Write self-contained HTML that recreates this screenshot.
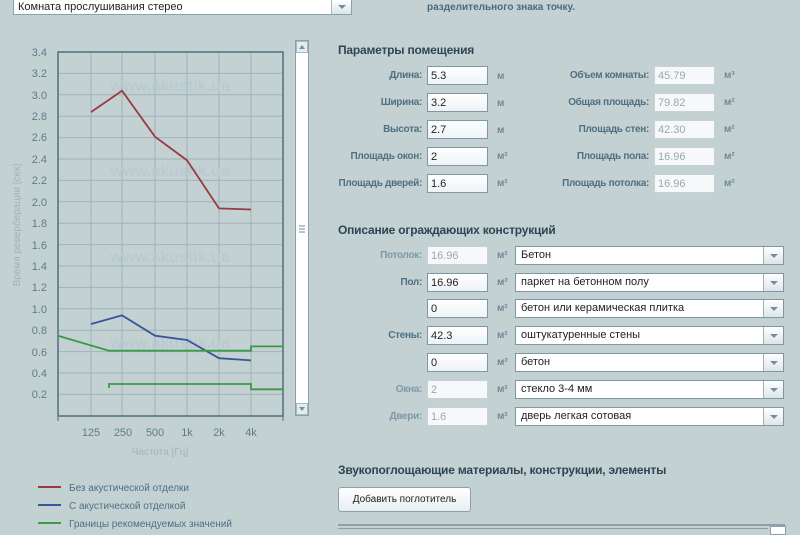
<!DOCTYPE html>
<html><head><meta charset="utf-8"><style>
body{margin:0;width:800px;height:533px;background:#c3d1d3;font-family:"Liberation Sans",sans-serif;position:relative;overflow:hidden}
.a{position:absolute}
.lb{position:absolute;font-size:10px;letter-spacing:-0.3px;font-weight:bold;color:#4f6f82;text-align:right;white-space:nowrap}
.in{position:absolute;width:61px;height:19px;background:linear-gradient(#fff,#eef3f6);border:1px solid #7f97a4;font-size:11px;line-height:19px;padding-left:3px;box-sizing:border-box;color:#222}
.in.d{color:#9aa;border-color:#c8d2d6;background:#f6f8f9}
.u{position:absolute;font-size:10px;font-weight:bold;color:#6f8a98}
.sel{position:absolute;left:515px;width:269px;height:19px;background:#fff;border:1px solid #7f97a4;box-sizing:border-box;font-size:11px;line-height:17px;padding-left:5px;color:#222}
.sel:after{content:"";position:absolute;right:0;top:0;width:19px;height:17px;border-left:1px solid #9fb0b8;background:linear-gradient(#fff,#dde5e9)}
.sel b{position:absolute;right:5px;top:7px;width:0;height:0;border-left:4px solid transparent;border-right:4px solid transparent;border-top:4px solid #6f8fa8;z-index:2}
h3{position:absolute;margin:0;font-size:12px;color:#2f4552;font-weight:bold;letter-spacing:-0.2px}
</style></head><body>
<div class="a" style="left:13px;top:-1px;width:339px;height:16px;background:#fff;border:1px solid #8aa0ab;box-sizing:border-box;font-size:11px;line-height:14px;padding-left:4px;color:#222">Комната прослушивания стерео<span style="position:absolute;right:0;top:0;width:19px;height:14px;border-left:1px solid #a9b8bf;background:linear-gradient(#fff,#dde5e9)"></span><span style="position:absolute;right:5px;top:5px;border-left:4px solid transparent;border-right:4px solid transparent;border-top:4px solid #6f8fa8"></span></div>
<div class="a" style="left:427px;top:2px;font-size:10px;font-weight:bold;color:#4a6a80">разделительного знака точку.</div>

<svg class="a" style="left:0;top:30px" width="320" height="440" viewBox="0 30 320 440">
<g stroke="#9fb3bb" stroke-width="1">
<line x1="91" y1="52" x2="91" y2="416"/><line x1="122" y1="52" x2="122" y2="416"/><line x1="155" y1="52" x2="155" y2="416"/><line x1="187" y1="52" x2="187" y2="416"/><line x1="219" y1="52" x2="219" y2="416"/><line x1="251" y1="52" x2="251" y2="416"/>
<line x1="58" y1="73.4" x2="283" y2="73.4"/><line x1="58" y1="94.8" x2="283" y2="94.8"/><line x1="58" y1="116.2" x2="283" y2="116.2"/><line x1="58" y1="137.6" x2="283" y2="137.6"/><line x1="58" y1="159" x2="283" y2="159"/><line x1="58" y1="180.4" x2="283" y2="180.4"/><line x1="58" y1="201.8" x2="283" y2="201.8"/><line x1="58" y1="223.2" x2="283" y2="223.2"/><line x1="58" y1="244.6" x2="283" y2="244.6"/><line x1="58" y1="266" x2="283" y2="266"/><line x1="58" y1="287.4" x2="283" y2="287.4"/><line x1="58" y1="308.8" x2="283" y2="308.8"/><line x1="58" y1="330.2" x2="283" y2="330.2"/><line x1="58" y1="351.6" x2="283" y2="351.6"/><line x1="58" y1="373" x2="283" y2="373"/><line x1="58" y1="394.4" x2="283" y2="394.4"/>
</g>
<g font-family="Liberation Sans" font-size="16" font-weight="bold" fill="#b9cad0" text-anchor="middle"><text x="170" y="91">www.akustik.ua</text><text x="170" y="176">www.akustik.ua</text><text x="170" y="262">www.akustik.ua</text><text x="170" y="348">www.akustik.ua</text></g>
<rect x="58" y="52" width="225" height="364" fill="none" stroke="#4d7080" stroke-width="1.5"/>
<g stroke="#4d7080"><line x1="58" y1="416" x2="58" y2="421"/><line x1="283" y1="416" x2="283" y2="421"/></g>
<g font-family="Liberation Sans" font-size="11" fill="#5f7b88" text-anchor="end">
<text x="47" y="56">3.4</text><text x="47" y="77">3.2</text><text x="47" y="99">3.0</text><text x="47" y="120">2.8</text><text x="47" y="141">2.6</text><text x="47" y="163">2.4</text><text x="47" y="184">2.2</text><text x="47" y="206">2.0</text><text x="47" y="227">1.8</text><text x="47" y="249">1.6</text><text x="47" y="270">1.4</text><text x="47" y="291">1.2</text><text x="47" y="313">1.0</text><text x="47" y="334">0.8</text><text x="47" y="356">0.6</text><text x="47" y="377">0.4</text><text x="47" y="398">0.2</text></g>
<g font-family="Liberation Sans" font-size="11" fill="#5f7b88" text-anchor="middle"><text x="91" y="436">125</text><text x="123" y="436">250</text><text x="155" y="436">500</text><text x="187" y="436">1k</text><text x="219" y="436">2k</text><text x="251" y="436">4k</text></g>
<text x="160" y="455" font-family="Liberation Sans" font-size="10" fill="#9fb3bb" text-anchor="middle">Частота [Гц]</text>
<text transform="translate(20,225) rotate(-90)" font-family="Liberation Sans" font-size="10" fill="#9fb3bb" text-anchor="middle">Время реверберации [сек]</text>
<polyline fill="none" stroke="#9b3a42" stroke-width="1.8" points="91,112.1 122,90.7 155,136.7 187,160.3 219,208.4 251,209.5"/>
<polyline fill="none" stroke="#3a569b" stroke-width="1.8" points="91,324 122,315.4 155,335.7 187,340 219,358.2 251,360.4"/>
<polyline fill="none" stroke="#3a9a48" stroke-width="1.8" points="58,335.7 109,350.7 251,350.7 251,346.4 283,346.4"/>
<polyline fill="none" stroke="#3a9a48" stroke-width="1.8" points="109,388 109,384 251,384 251,389.3 283,389.3"/>
<rect x="295.5" y="40.5" width="13" height="375" fill="#fff" stroke="#8aa0ab"/>
<rect x="296.5" y="41.5" width="11" height="11" fill="#e6edf0" stroke="#a9b8bf"/><path d="M299 49 L302 45 L305 49Z" fill="#6f8fa8"/>
<rect x="296.5" y="403.5" width="11" height="11" fill="#e6edf0" stroke="#a9b8bf"/><path d="M299 407 L302 411 L305 407Z" fill="#6f8fa8"/>
<g stroke="#6f8a98"><line x1="299" y1="226" x2="305" y2="226"/><line x1="299" y1="229" x2="305" y2="229"/><line x1="299" y1="232" x2="305" y2="232"/></g>
</svg>

<div class="a" style="left:38px;top:486px;width:23px;height:2px;background:#9b3a42"></div>
<div class="a" style="left:38px;top:504px;width:23px;height:2px;background:#3a569b"></div>
<div class="a" style="left:38px;top:522px;width:23px;height:2px;background:#3a9a48"></div>
<div class="a" style="left:69px;top:480px;font-size:10px;color:#4f6f82;line-height:18px">Без акустической отделки<br>С акустической отделкой<br>Границы рекомендуемых значений</div>

<h3 style="left:338px;top:43px">Параметры помещения</h3>
<div class="lb" style="right:378px;top:70px">Длина:</div><div class="in" style="left:427px;top:66px">5.3</div><div class="u" style="left:497px;top:71px">м</div>
<div class="lb" style="right:378px;top:97px">Ширина:</div><div class="in" style="left:427px;top:93px">3.2</div><div class="u" style="left:497px;top:98px">м</div>
<div class="lb" style="right:378px;top:124px">Высота:</div><div class="in" style="left:427px;top:120px">2.7</div><div class="u" style="left:497px;top:125px">м</div>
<div class="lb" style="right:378px;top:151px">Площадь окон:</div><div class="in" style="left:427px;top:147px">2</div><div class="u" style="left:497px;top:151px">м²</div>
<div class="lb" style="right:378px;top:178px">Площадь дверей:</div><div class="in" style="left:427px;top:174px">1.6</div><div class="u" style="left:497px;top:178px">м²</div>

<div class="lb" style="right:151px;top:70px">Объем комнаты:</div><div class="in d" style="left:654px;top:66px">45.79</div><div class="u" style="left:724px;top:70px">м³</div>
<div class="lb" style="right:151px;top:97px">Общая площадь:</div><div class="in d" style="left:654px;top:93px">79.82</div><div class="u" style="left:724px;top:97px">м²</div>
<div class="lb" style="right:151px;top:124px">Площадь стен:</div><div class="in d" style="left:654px;top:120px">42.30</div><div class="u" style="left:724px;top:124px">м²</div>
<div class="lb" style="right:151px;top:151px">Площадь пола:</div><div class="in d" style="left:654px;top:147px">16.96</div><div class="u" style="left:724px;top:151px">м²</div>
<div class="lb" style="right:151px;top:178px">Площадь потолка:</div><div class="in d" style="left:654px;top:174px">16.96</div><div class="u" style="left:724px;top:178px">м²</div>

<h3 style="left:338px;top:223px">Описание ограждающих конструкций</h3>
<div class="lb" style="right:378px;top:250px;color:#7f98a5">Потолок:</div><div class="in d" style="left:427px;top:246px">16.96</div><div class="u" style="left:497px;top:250px">м²</div><div class="sel" style="top:246px">Бетон<b></b></div>
<div class="lb" style="right:378px;top:277px">Пол:</div><div class="in" style="left:427px;top:273px">16.96</div><div class="u" style="left:497px;top:277px">м²</div><div class="sel" style="top:273px">паркет на бетонном полу<b></b></div>
<div class="in" style="left:427px;top:299px">0</div><div class="u" style="left:497px;top:303px">м²</div><div class="sel" style="top:299px">бетон или керамическая плитка<b></b></div>
<div class="lb" style="right:378px;top:330px">Стены:</div><div class="in" style="left:427px;top:326px">42.3</div><div class="u" style="left:497px;top:330px">м²</div><div class="sel" style="top:326px">оштукатуренные стены<b></b></div>
<div class="in" style="left:427px;top:353px">0</div><div class="u" style="left:497px;top:357px">м²</div><div class="sel" style="top:353px">бетон<b></b></div>
<div class="lb" style="right:378px;top:384px;color:#7f98a5">Окна:</div><div class="in d" style="left:427px;top:380px">2</div><div class="u" style="left:497px;top:384px">м²</div><div class="sel" style="top:380px">стекло 3-4 мм<b></b></div>
<div class="lb" style="right:378px;top:411px;color:#7f98a5">Двери:</div><div class="in d" style="left:427px;top:407px">1.6</div><div class="u" style="left:497px;top:411px">м²</div><div class="sel" style="top:407px">дверь легкая сотовая<b></b></div>

<h3 style="left:338px;top:463px">Звукопоглощающие материалы, конструкции, элементы</h3>
<div class="a" style="left:338px;top:487px;width:133px;height:25px;border:1px solid #8aa0ab;border-radius:3px;background:linear-gradient(#fff,#e8eef1);box-sizing:border-box;font-size:10px;text-align:center;line-height:23px;color:#222">Добавить поглотитель</div>
<div class="a" style="left:338px;top:524px;width:447px;height:9px;border-top:2px solid #8aa0ab;background:#c3d1d3"></div>
<div class="a" style="left:338px;top:528px;width:430px;height:1px;background:#8aa0ab"></div>
<div class="a" style="left:770px;top:526px;width:14px;height:7px;background:#fff;border:1px solid #8aa0ab"></div>
</body></html>
